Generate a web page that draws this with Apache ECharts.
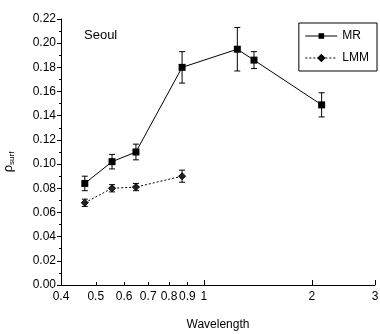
<!DOCTYPE html>
<html>
<head>
<meta charset="utf-8">
<script src="https://cdn.jsdelivr.net/npm/echarts@6/dist/echarts.min.js"></script>
<style>
  html, body { margin: 0; padding: 0; background: #fff; }
  #chart { width: 380px; height: 334px; }
</style>
</head>
<body>
<div id="chart"></div>
<script>
// wavelengths (um) and surface reflectance with error
const mrWave = [0.466, 0.555, 0.647, 0.87, 1.24, 1.38, 2.13]
const mrValue = [0.084, 0.102, 0.110, 0.180, 0.195, 0.186, 0.149]
const mrErr = [0.006, 0.006, 0.0065, 0.013, 0.018, 0.007, 0.010]

const lmmWave = [0.466, 0.555, 0.647, 0.87]
const lmmValue = [0.068, 0.080, 0.081, 0.090]
const lmmErr = [0.003, 0.003, 0.003, 0.005]

const majorTicks = [0.4, 1, 2, 3]
const minorTicks = [0.5, 0.6, 0.7, 0.8, 0.9]
const tickLabels = [0.4, 0.5, 0.6, 0.7, 0.8, 0.9, 1, 2, 3]

const lg = v => Math.log10(v)
const font = 'Liberation Sans, Arial, sans-serif'

const chart = echarts.init(document.getElementById('chart'))

function errorBars(name, wave, value, err) {
  return {
    name: name + ' err',
    type: 'custom',
    data: wave.map((w, i) => [lg(w), value[i] - err[i], value[i] + err[i]]),
    renderItem(params, api) {
      const lo = api.coord([api.value(0), api.value(1)])
      const hi = api.coord([api.value(0), api.value(2)])
      const cap = 3
      const style = { stroke: '#000', lineWidth: 1 }
      return {
        type: 'group',
        children: [
          { type: 'line', shape: { x1: lo[0], y1: lo[1], x2: hi[0], y2: hi[1] }, style },
          { type: 'line', shape: { x1: lo[0] - cap, y1: lo[1], x2: lo[0] + cap, y2: lo[1] }, style },
          { type: 'line', shape: { x1: hi[0] - cap, y1: hi[1], x2: hi[0] + cap, y2: hi[1] }, style }
        ]
      }
    },
    z: 1
  }
}

const option = {
  animation: false,
  textStyle: { fontFamily: font },
  title: {
    text: 'Seoul',
    left: 79,
    top: 24,
    textStyle: { fontSize: 13, fontWeight: 'normal', color: '#000', fontFamily: font }
  },
  legend: {
    orient: 'vertical',
    right: 3,
    top: 23,
    padding: [7, 8, 7, 6],
    borderColor: '#000',
    borderWidth: 1,
    borderRadius: 0,
    itemWidth: 32,
    itemHeight: 7,
    itemGap: 10,
    lineStyle: { width: 1 },
    data: ['MR', 'LMM'],
    textStyle: { fontSize: 12, color: '#000', fontFamily: font }
  },
  grid: { left: 61, right: 5, top: 19, bottom: 49, containLabel: false, outerBoundsMode: 'none' },
  xAxis: [
    {
      type: 'value',
      min: lg(0.4),
      max: lg(3),
      name: 'Wavelength',
      nameLocation: 'middle',
      nameGap: 34,
      nameTextStyle: { fontSize: 12, color: '#000' },
      splitLine: { show: false },
      axisLine: { onZero: false, lineStyle: { color: '#000', width: 1 } },
      axisTick: { inside: true, length: 5, customValues: majorTicks.map(lg), lineStyle: { color: '#000' } },
      axisLabel: {
        customValues: tickLabels.map(lg),
        formatter: v => String(+Math.pow(10, v).toFixed(1)),
        fontSize: 12,
        color: '#000',
        margin: 6
      }
    },
    {
      type: 'value',
      min: lg(0.4),
      max: lg(3),
      position: 'bottom',
      splitLine: { show: false },
      axisLine: { show: false, onZero: false },
      axisTick: { inside: true, length: 3, customValues: minorTicks.map(lg), lineStyle: { color: '#000' } },
      axisLabel: { show: false }
    }
  ],
  yAxis: {
    type: 'value',
    min: 0,
    max: 0.22,
    interval: 0.02,
    name: '{r|ρ}{s|surf}',
    nameLocation: 'middle',
    nameRotate: 90,
    nameGap: 45,
    nameTextStyle: {
      color: '#000',
      padding: [0, 0, 0, -20],
      rich: {
        r: { fontSize: 13, color: '#000', fontFamily: font },
        s: { fontSize: 8, color: '#000', fontFamily: font, padding: [7, 0, 0, 0] }
      }
    },
    splitLine: { show: false },
    axisLine: { show: true, onZero: false, lineStyle: { color: '#000', width: 1 } },
    axisTick: { length: 4, lineStyle: { color: '#000' } },
    minorTick: { show: true, splitNumber: 2, length: 2, lineStyle: { color: '#000' } },
    axisLabel: { formatter: v => v.toFixed(2), fontSize: 12, color: '#000', margin: 5 }
  },
  series: [
    errorBars('MR', mrWave, mrValue, mrErr),
    errorBars('LMM', lmmWave, lmmValue, lmmErr),
    {
      name: 'MR',
      type: 'line',
      data: mrWave.map((w, i) => [lg(w), mrValue[i]]),
      symbol: 'rect',
      symbolSize: 7,
      itemStyle: { color: '#000' },
      lineStyle: { color: '#000', width: 1 },
      z: 3
    },
    {
      name: 'LMM',
      type: 'line',
      data: lmmWave.map((w, i) => [lg(w), lmmValue[i]]),
      symbol: 'diamond',
      symbolSize: 7,
      itemStyle: { color: '#222', borderColor: '#000', borderWidth: 1 },
      lineStyle: { color: '#000', width: 1, type: [2, 2] },
      z: 3
    }
  ]
}

chart.setOption(option)
</script>
</body>
</html>
